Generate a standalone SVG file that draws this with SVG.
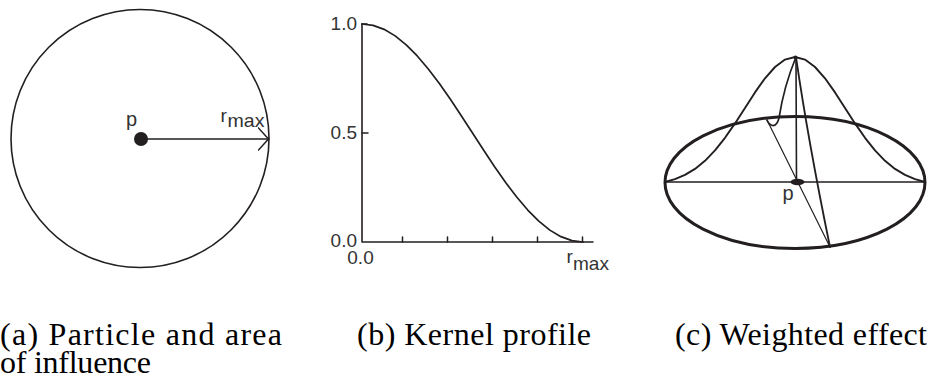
<svg xmlns="http://www.w3.org/2000/svg" width="927" height="381" viewBox="0 0 927 381">
  <style>
    .ln { fill: none; stroke: #231f20; stroke-linecap: round; stroke-linejoin: round; }
    .sans { font-family: "Liberation Sans", Arial, Helvetica, sans-serif; fill: #333333; }
    .cap { font-family: "Liberation Serif", "Times New Roman", serif; font-size: 32px; fill: #000000; }
  </style>
  <defs>
    <marker id="chev" viewBox="0 0 12 24" refX="11" refY="12" markerWidth="12" markerHeight="24" markerUnits="userSpaceOnUse" orient="auto">
      <path d="M0.5,0.5 L11,12 L0.5,23.5" fill="none" stroke="#231f20" stroke-width="1.5"/>
    </marker>
  </defs>

  <rect width="927" height="381" fill="#ffffff"/>

  <!-- Panel (a) -->
  <g id="panel-a">
    <g id="area-of-influence">
      <circle class="ln" cx="140" cy="138.5" r="129" stroke-width="1.6"/>
    </g>
    <g id="particle-p">
      <circle cx="141" cy="139" r="7" fill="#231f20"/>
      <text class="sans" x="126" y="126" font-size="20">p</text>
    </g>
    <g id="connectors-a">
      <line class="ln" x1="141" y1="139" x2="268.5" y2="139" stroke-width="1.6" marker-end="url(#chev)"/>
    </g>
    <g id="label-rmax-a">
      <text class="sans" x="220.5" y="122" font-size="19">r</text>
      <text class="sans" x="227.5" y="126.5" font-size="19" textLength="37" lengthAdjust="spacingAndGlyphs">max</text>
    </g>
  </g>

  <!-- Panel (b) -->
  <g id="panel-b">
    <g id="axes">
      <polyline class="ln" points="362,24 362,242 593,242" stroke-width="1.6"/>
      <path class="ln" d="M362,24 H367 M362,133 H368 M402.5,242 V237 M447.5,242 V237 M492.5,242 V237 M537.5,242 V237 M582.5,242 V237" stroke-width="1.5"/>
    </g>
    <g id="kernel-curve">
      <polyline class="ln" stroke-width="1.7" points="362,24 373.05,25.34 384.1,29.33 395.15,35.88 406.2,44.82 417.25,55.93 428.3,68.93 439.35,83.52 450.4,99.32 461.45,115.95 472.5,133 483.55,150.05 494.6,166.68 505.65,182.48 516.7,197.07 527.75,210.07 538.8,221.18 549.85,230.12 560.9,236.67 571.95,240.66 583,242"/>
    </g>
    <g id="axis-labels" class="sans" font-size="19">
      <text x="357" y="30" text-anchor="end">1.0</text>
      <text x="357" y="139" text-anchor="end">0.5</text>
      <text x="357" y="246.5" text-anchor="end">0.0</text>
      <text x="360.5" y="264" text-anchor="middle">0.0</text>
      <text x="566.5" y="263" font-size="19">r</text>
      <text x="573" y="270" font-size="19" textLength="36" lengthAdjust="spacingAndGlyphs">max</text>
    </g>
  </g>

  <!-- Panel (c) -->
  <g id="panel-c">
    <g id="base-ellipse">
      <ellipse class="ln" cx="795" cy="182.5" rx="130" ry="66" stroke-width="3"/>
    </g>
    <g id="connectors-c">
      <line class="ln" x1="665" y1="182" x2="925" y2="182" stroke-width="1.5"/>
      <line class="ln" x1="796.5" y1="182" x2="796" y2="57" stroke-width="1.6"/>
      <line class="ln" x1="767" y1="120" x2="830" y2="247" stroke-width="1.2"/>
    </g>
    <g id="gaussian">
      <polyline class="ln" stroke-width="1.9" points="665,182 675,179.1 685,174.9 695,168.9 705,160.8 715,150.4 725,137.8 735,123.4 745,107.9 755,92.4 765,78.3 775,67 785,59.6 795,57 805,59.6 815,67 825,78.3 835,92.4 845,107.9 855,123.4 865,137.8 875,150.4 885,160.8 895,168.9 905,174.9 915,179.1 925,182"/>
      <path class="ln" d="M796,57 Q784,86 779,118 Q777,126 772.5,125.5 Q768.5,124.5 767,120" stroke-width="1.7"/>
      <path class="ln" d="M796,57 Q808,140 830,247" stroke-width="1.8"/>
      <circle cx="795.5" cy="57.5" r="2" fill="#231f20"/>
    </g>
    <g id="center-p">
      <ellipse cx="797.5" cy="182" rx="7" ry="3.3" fill="#231f20"/>
      <text class="sans" x="782.5" y="200" font-size="20">p</text>
    </g>
  </g>

  <!-- Captions -->
  <g id="captions" class="cap">
    <text x="0" y="345" textLength="282" lengthAdjust="spacing">(a) Particle and area</text>
    <text x="0" y="373" textLength="151" lengthAdjust="spacing">of influence</text>
    <text x="357" y="345" textLength="234" lengthAdjust="spacing">(b) Kernel profile</text>
    <text x="675" y="345" textLength="252" lengthAdjust="spacing">(c) Weighted effect</text>
  </g>
</svg>
